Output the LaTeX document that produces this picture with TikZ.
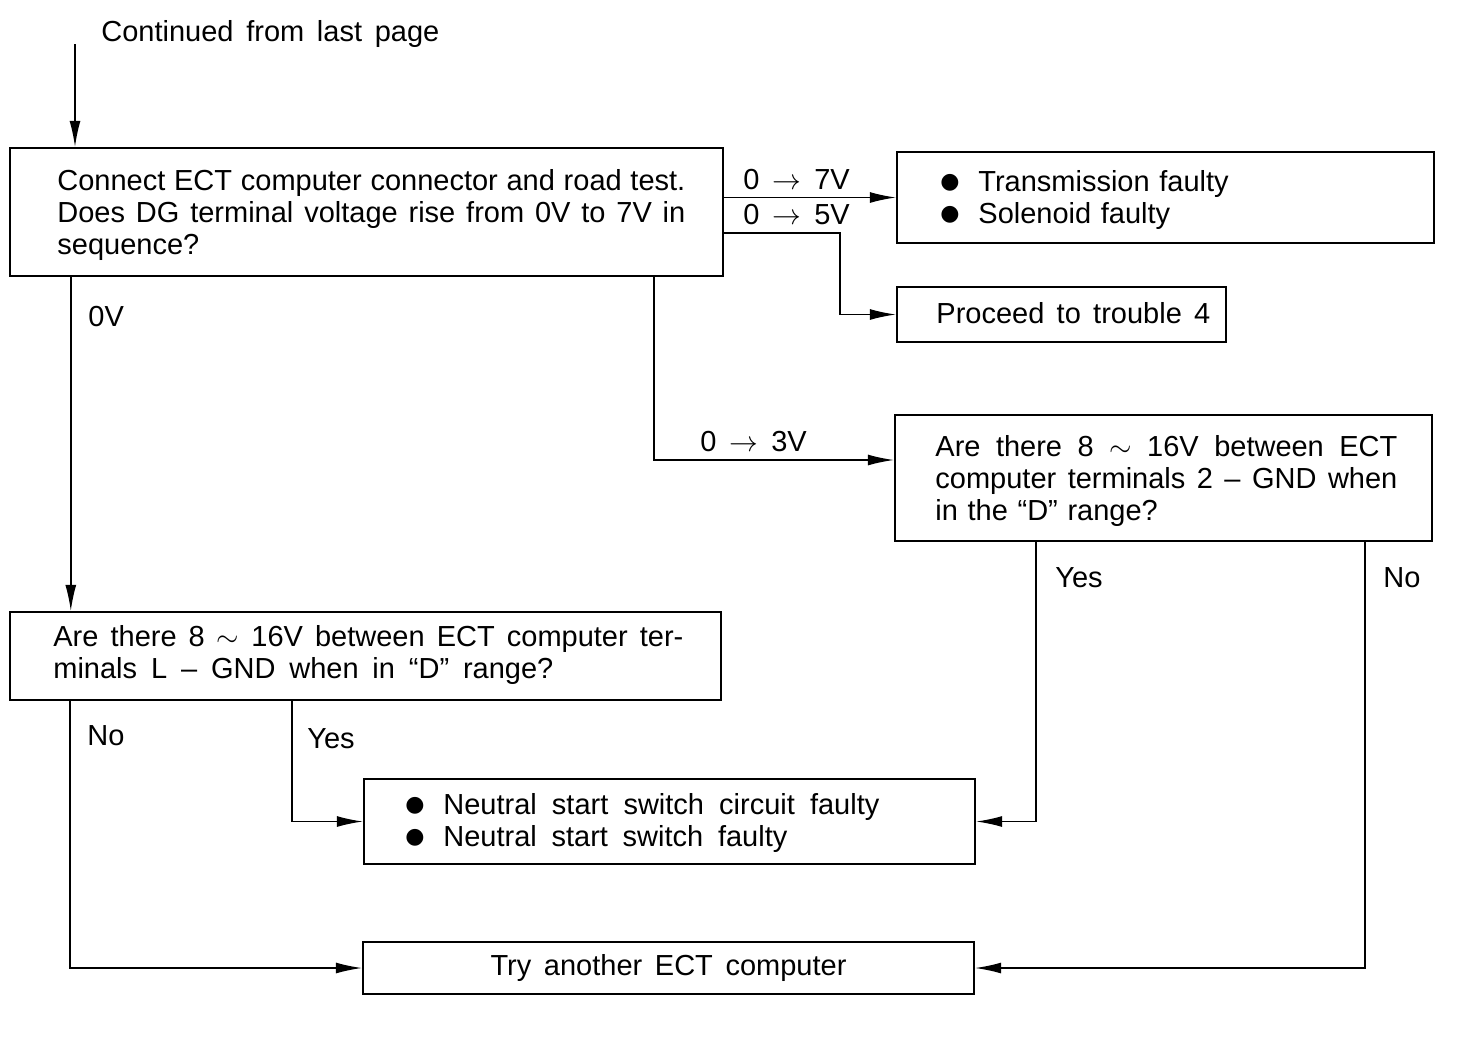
\documentclass[tikz,border=0pt]{standalone}
\usepackage{fontspec}
\setmainfont{Liberation Sans}
\newfontfamily\dejavu{DejaVu Sans}
\usetikzlibrary{arrows.meta}
\newcommand\bul{\makebox[19pt][l]{\raisebox{1.2pt}{\dejavu\fontsize{11}{11}\selectfont ●}}}
\newcommand\jline[2]{\makebox[#1][s]{\spaceskip=.28em plus 1fil minus .1em\relax #2}}
\newcommand\volt[1]{0\hspace{6.5pt}$\rightarrow$\hspace{6.5pt}#1}

\begin{document}
\begin{tikzpicture}[x=0.5pt, y=-0.5pt,
	every node/.style = {font=\fontsize{14.5}{16}\selectfont},
	box/.style = {draw, line width=1.2pt, inner sep=0pt},
	txt/.style = {anchor=base west, inner sep=0pt, align=left, text width=#1},
	txt/.default = 300pt,
	lbl/.style = {anchor=base west, inner sep=0pt},
	arr/.style = {line width=0.7pt, -{Latex[length=13pt, width=5.5pt]}}]
	\useasboundingbox (0,0) rectangle (1472,1044);

	\node[box, minimum width=356.5pt, minimum height=64pt] (bA) at (366.5,212) {};
	\node[box, minimum width=268.5pt, minimum height=45.5pt] (bB) at (1165.5,197.5) {};
	\node[box, minimum width=164.5pt, minimum height=27.5pt] (bC) at (1061.5,314.5) {};
	\node[box, minimum width=268.5pt, minimum height=63pt] (bD) at (1163.5,478) {};
	\node[box, minimum width=355.5pt, minimum height=44pt] (bE) at (365.5,656) {};
	\node[box, minimum width=305.5pt, minimum height=42.5pt] (bF) at (669.5,821.5) {};
	\node[box, minimum width=305.5pt, minimum height=26pt] (bG) at (668.5,968) {};

	\node[lbl] (tCont) at (101,41) {\jline{169pt}{Continued from last page}};
	\node[txt=330pt] (tA) at (57,190) {\jline{314pt}{Connect ECT computer connector and road test.}\\
		\jline{314pt}{Does DG terminal voltage rise from 0V to 7V in}\\sequence?};
	\node[txt=250pt] (tB) at (940,191) {\bul Transmission faulty\\\bul Solenoid faulty};
	\node[txt=150pt] (tC) at (936,323) {\jline{137pt}{Proceed to trouble 4}};
	\node[txt=240pt] (tD) at (935,456) {\jline{231pt}{Are there 8 $\sim$ 16V between ECT}\\
		\jline{231pt}{computer terminals 2 -- GND when}\\in the ``D'' range?};
	\node[txt=330pt] (tE) at (53,646) {\jline{315pt}{Are there 8 $\sim$ 16V between ECT computer ter-}\\
		\jline{250pt}{minals L -- GND when in ``D'' range?}};
	\node[txt=290pt] (tF) at (405,814) {\bul \jline{218pt}{Neutral start switch circuit faulty}\\\bul \jline{172pt}{Neutral start switch faulty}};
	\node (tG) at (bG) {\jline{178pt}{Try another ECT computer}};

	\node[lbl] (l7) at (743,189) {\volt{7V}};
	\node[lbl] (l5) at (743,224) {\volt{5V}};
	\node[lbl] (l3) at (700,451) {\volt{3V}};
	\node[lbl] (l0) at (88,326) {0V};
	\node[lbl] (lNoE) at (87,745) {No};
	\node[lbl] (lYesE) at (307,748) {Yes};
	\node[lbl] (lYesD) at (1055,587) {Yes};
	\node[lbl] (lNoD) at (1383,587) {No};

	\coordinate (cont) at (75,44);
	\coordinate (jC) at (840,0);
	\coordinate (jD) at (654,460);
	\draw[arr] (cont) -- (cont |- bA.north);
	\draw[arr] (bA.east |- bB.west) -- (bB.west);
	\draw[arr] ([yshift=-10.5pt]bA.east) -| (jC |- bC.west) -- (bC.west);
	\draw[arr] (bA.south -| jD) -- (jD) -- (jD -| bD.west);
	\draw[arr] ([xshift=31pt]bA.south west) -- ([xshift=31pt]bE.north west);
	\draw[arr] ([xshift=30.5pt]bE.south west) |- (bG.west);
	\draw[arr] ([xshift=141.5pt]bE.south west) |- (bF.west);
	\draw[arr] ([xshift=71pt]bD.south west) |- (bF.east);
	\draw[arr] ([xshift=235.5pt]bD.south west) |- (bG.east);
\end{tikzpicture}
\end{document}
